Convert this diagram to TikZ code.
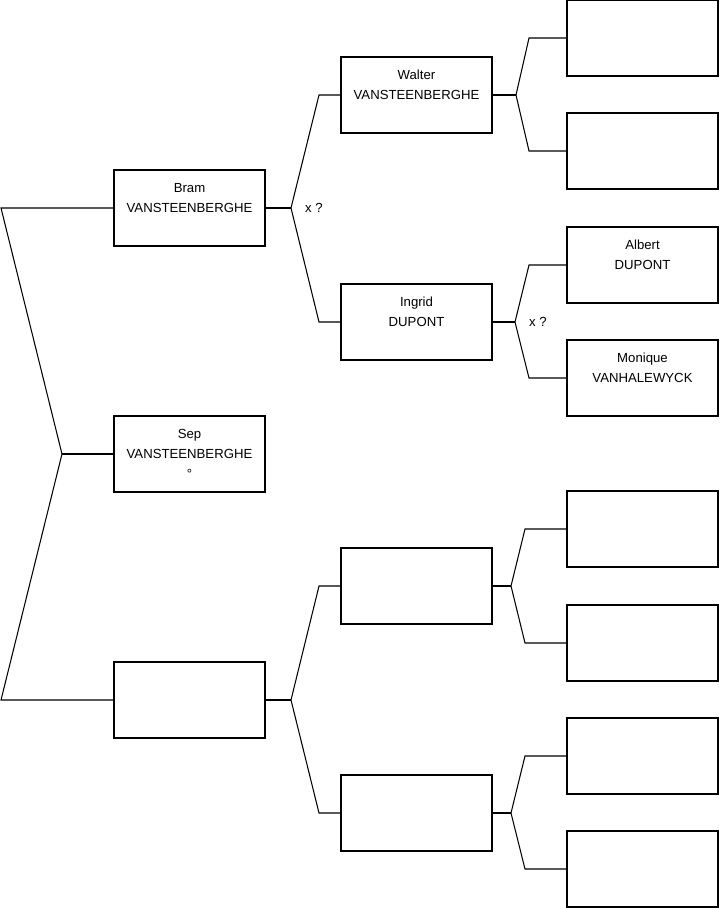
\documentclass[tikz,border=0pt]{standalone}
\usepackage{fontspec}
\setmainfont{Liberation Sans}
\usepackage{tikz}
\usetikzlibrary{positioning,calc}
\tikzset{
  % Person boxes
  person/.style={draw=black,line width=0.6pt,fill=white,minimum width=3.02cm,
                 minimum height=1.52cm,align=center,inner sep=0pt,
                 font=\fontsize{7.5}{11.6}\selectfont},
  % Tree lines
  ln/.style={black,line width=0.6pt},
  % Marriage remarks
  lbl/.style={font=\fontsize{7.5}{9}\selectfont,inner sep=1pt}
}

\begin{document}
\begin{tikzpicture}[x=0.02cm,y=-0.02cm]
  \useasboundingbox (0,0) rectangle (719,908);

  % --- Generation 1 (child and parents) ---
  \node[person] (c1) at (189.5,208) {Bram\\VANSTEENBERGHE\\\mbox{}};
  \node[person] (c2) at (189.5,454) {Sep\\VANSTEENBERGHE\\°};
  \node[person] (c3) at (189.5,700) {};

  % --- Generation 2: grandparents ---
  \node[person] (g1) at (416.5,95)  {Walter\\VANSTEENBERGHE\\\mbox{}};
  \node[person] (g2) at (416.5,322) {Ingrid\\DUPONT\\\mbox{}};
  \node[person] (g3) at (416.5,586) {};
  \node[person] (g4) at (416.5,813) {};

  % --- Generation 3: great-grandparents ---
  \node[person] (gg1) at (642.5,38)  {};
  \node[person] (gg2) at (642.5,151) {};
  \node[person] (gg3) at (642.5,265) {Albert\\DUPONT\\\mbox{}};
  \node[person] (gg4) at (642.5,378) {Monique\\VANHALEWYCK\\\mbox{}};
  \node[person] (gg5) at (642.5,529) {};
  \node[person] (gg6) at (642.5,643) {};
  \node[person] (gg7) at (642.5,756) {};
  \node[person] (gg8) at (642.5,869) {};

  % --- Fork points ---
  \coordinate (f0) at (62,454);
  \coordinate (f1) at (291,208);
  \coordinate (f2) at (291,700);
  \coordinate (f3) at (516,95);
  \coordinate (f4) at (515,322);
  \coordinate (f5) at (511,586);
  \coordinate (f6) at (511,813);

  % --- Sep -> parents ---
  \draw[ln] (c2.west) -- (f0);
  \draw[ln] (c1.west) -- (1,208) -- (f0) -- (1,700) -- (c3.west);

  % --- Bram -> parents ---
  \draw[ln] (c1.east) -- (f1);
  \draw[ln] (g1.west) -- (319,95) -- (f1) -- (319,322) -- (g2.west);
  \node[lbl,right=0.24cm of f1] (x1) {x ?};

  % --- Mother -> parents ---
  \draw[ln] (c3.east) -- (f2);
  \draw[ln] (g3.west) -- (319,586) -- (f2) -- (319,813) -- (g4.west);

  % --- Generation 2 -> generation 3 ---
  \draw[ln] (g1.east) -- (f3);
  \draw[ln] (gg1.west) -- (529,38) -- (f3) -- (529,151) -- (gg2.west);

  \draw[ln] (g2.east) -- (f4);
  \draw[ln] (gg3.west) -- (529,265) -- (f4) -- (529,378) -- (gg4.west);
  \node[lbl,right=0.24cm of f4] (x2) {x ?};

  \draw[ln] (g3.east) -- (f5);
  \draw[ln] (gg5.west) -- (525,529) -- (f5) -- (525,643) -- (gg6.west);

  \draw[ln] (g4.east) -- (f6);
  \draw[ln] (gg7.west) -- (525,756) -- (f6) -- (525,869) -- (gg8.west);
\end{tikzpicture}
\end{document}
